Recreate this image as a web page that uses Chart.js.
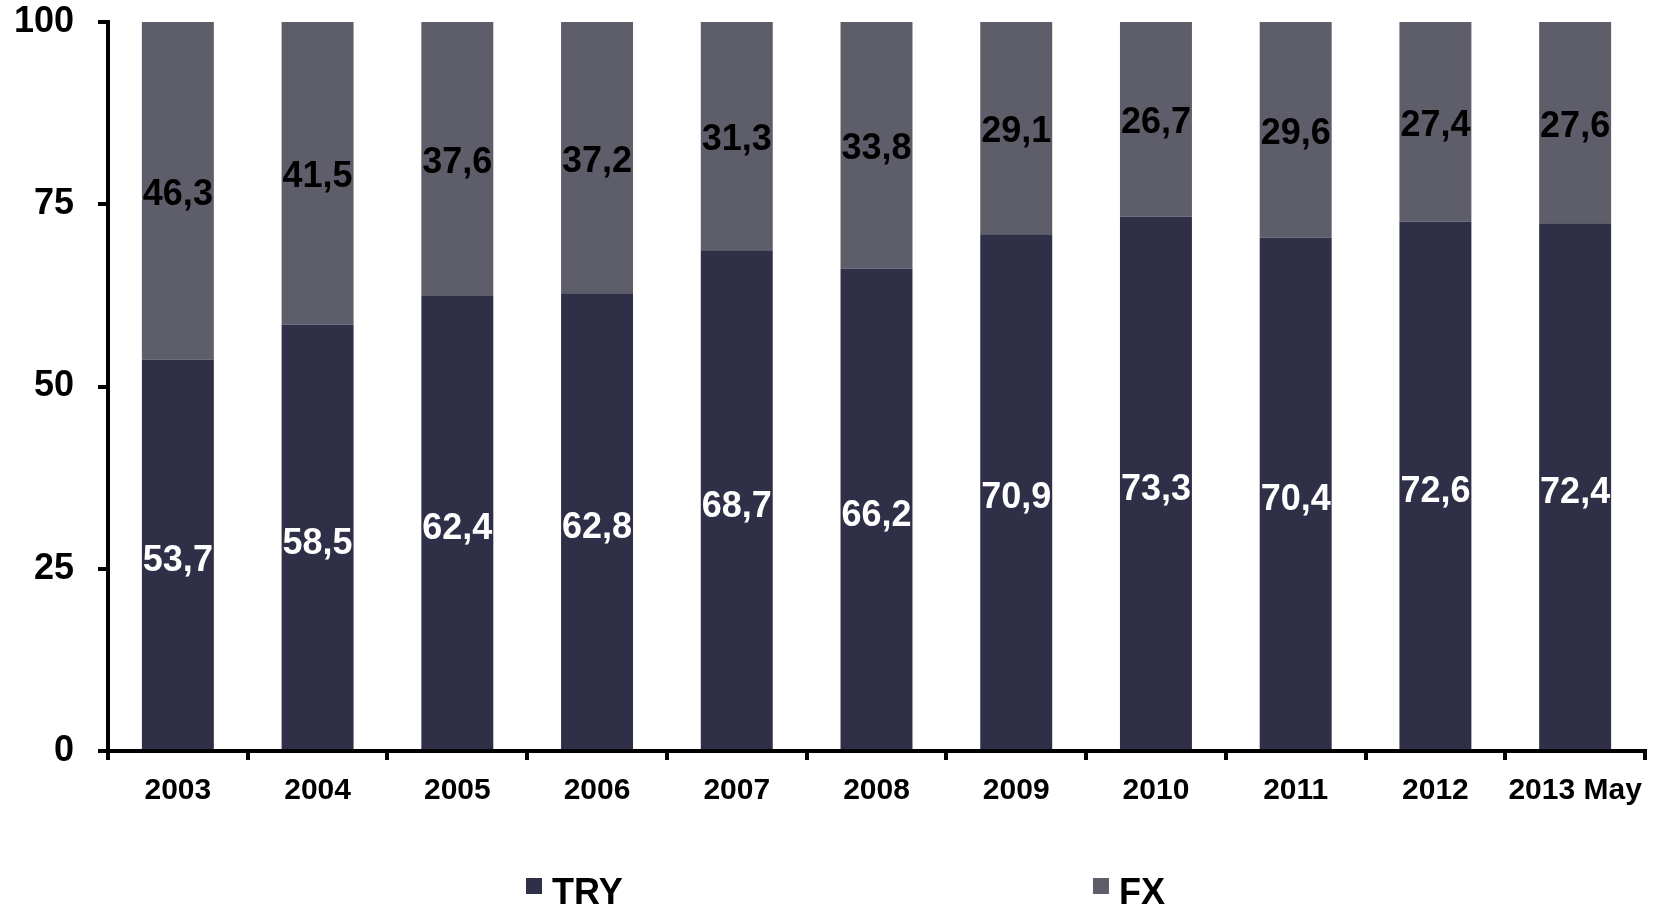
<!DOCTYPE html>
<html>
<head>
<meta charset="utf-8">
<script src="https://cdn.jsdelivr.net/npm/chart.js@4.4.0/dist/chart.umd.min.js"></script>
<style>
  html, body { margin: 0; padding: 0; background: #fff; }
</style>
</head>
<body>
<canvas id="grafico" width="1659" height="908"></canvas>
<script>
// Dados: participação (%) por moeda
const anos = ['2003', '2004', '2005', '2006', '2007', '2008', '2009', '2010', '2011', '2012', '2013 May'];
const serieTRY = [53.7, 58.5, 62.4, 62.8, 68.7, 66.2, 70.9, 73.3, 70.4, 72.6, 72.4];
const serieFX = [46.3, 41.5, 37.6, 37.2, 31.3, 33.8, 29.1, 26.7, 29.6, 27.4, 27.6];
const escalaY = { min: 0, max: 100, passo: 25 };

const fonte = '"Liberation Sans", Arial, sans-serif';

// Rótulos de valor no meio de cada segmento
const rotulos = {
    id: 'rotulos',
    afterDatasetsDraw(chart) {
        const ctx = chart.ctx;
        ctx.save();
        ctx.font = 'bold 36px ' + fonte;
        ctx.textAlign = 'center';
        ctx.textBaseline = 'middle';
        chart.data.datasets.forEach((ds, i) => {
            chart.getDatasetMeta(i).data.forEach((bar, j) => {
                ctx.fillStyle = ds.corRotulo;
                const texto = ds.data[j].toFixed(1).replace('.', ',');
                ctx.fillText(texto, bar.x, (bar.y + bar.base) / 2 + ds.ajusteRotulo);
            });
        });
        ctx.restore();
    }
};

// Legenda desenhada à mão (itens bem afastados)
const legenda = {
    id: 'legenda',
    afterDraw(chart) {
        const ctx = chart.ctx;
        const posX = [526, 1093];
        ctx.save();
        ctx.font = 'bold 36px ' + fonte;
        ctx.textBaseline = 'alphabetic';
        chart.data.datasets.forEach((ds, i) => {
            ctx.fillStyle = ds.backgroundColor;
            ctx.fillRect(posX[i], 878, 16, 16);
            ctx.fillStyle = '#000';
            ctx.fillText(ds.label, posX[i] + 26, 904);
        });
        ctx.restore();
    }
};

const ctx = document.getElementById('grafico').getContext('2d');
const grafico = new Chart(ctx, {
    type: 'bar',
    data: {
        labels: anos,
        datasets: [
            {
                label: 'TRY',
                data: serieTRY,
                backgroundColor: '#302F48',
                corRotulo: '#fff',
                ajusteRotulo: 7,
                barPercentage: 0.515,
                categoryPercentage: 1
            },
            {
                label: 'FX',
                data: serieFX,
                backgroundColor: '#5E5D6A',
                corRotulo: '#000',
                ajusteRotulo: 4,
                barPercentage: 0.515,
                categoryPercentage: 1
            }
        ]
    },
    options: {
        responsive: false,
        animation: false,
        devicePixelRatio: 1,
        layout: {
            autoPadding: false,
            padding: { left: 13, top: 22, right: 14, bottom: 97 }
        },
        plugins: {
            legend: { display: false },
            tooltip: { enabled: false }
        },
        scales: {
            x: {
                stacked: true,
                z: 1,
                afterFit: (eixo) => { eixo.height = 60; },
                ticks: {
                    color: '#000',
                    font: { family: fonte, size: 30, weight: 'bold' },
                    padding: 13,
                    maxRotation: 0,
                    autoSkip: false
                },
                grid: { drawOnChartArea: false, color: '#000', lineWidth: 4, tickLength: 9, offset: true },
                border: { color: '#000', width: 4 }
            },
            y: {
                stacked: true,
                min: escalaY.min,
                max: escalaY.max,
                afterFit: (eixo) => {
                    eixo.width = 95;
                    eixo.paddingTop = 0;
                    eixo.paddingBottom = 0;
                },
                ticks: {
                    stepSize: escalaY.passo,
                    color: '#000',
                    font: { family: fonte, size: 36, weight: 'bold' },
                    padding: 24
                },
                grid: { drawOnChartArea: false, color: '#000', lineWidth: 4, tickLength: 10 },
                border: { color: '#000', width: 4 }
            }
        }
    },
    plugins: [rotulos, legenda]
});
</script>
</body>
</html>
